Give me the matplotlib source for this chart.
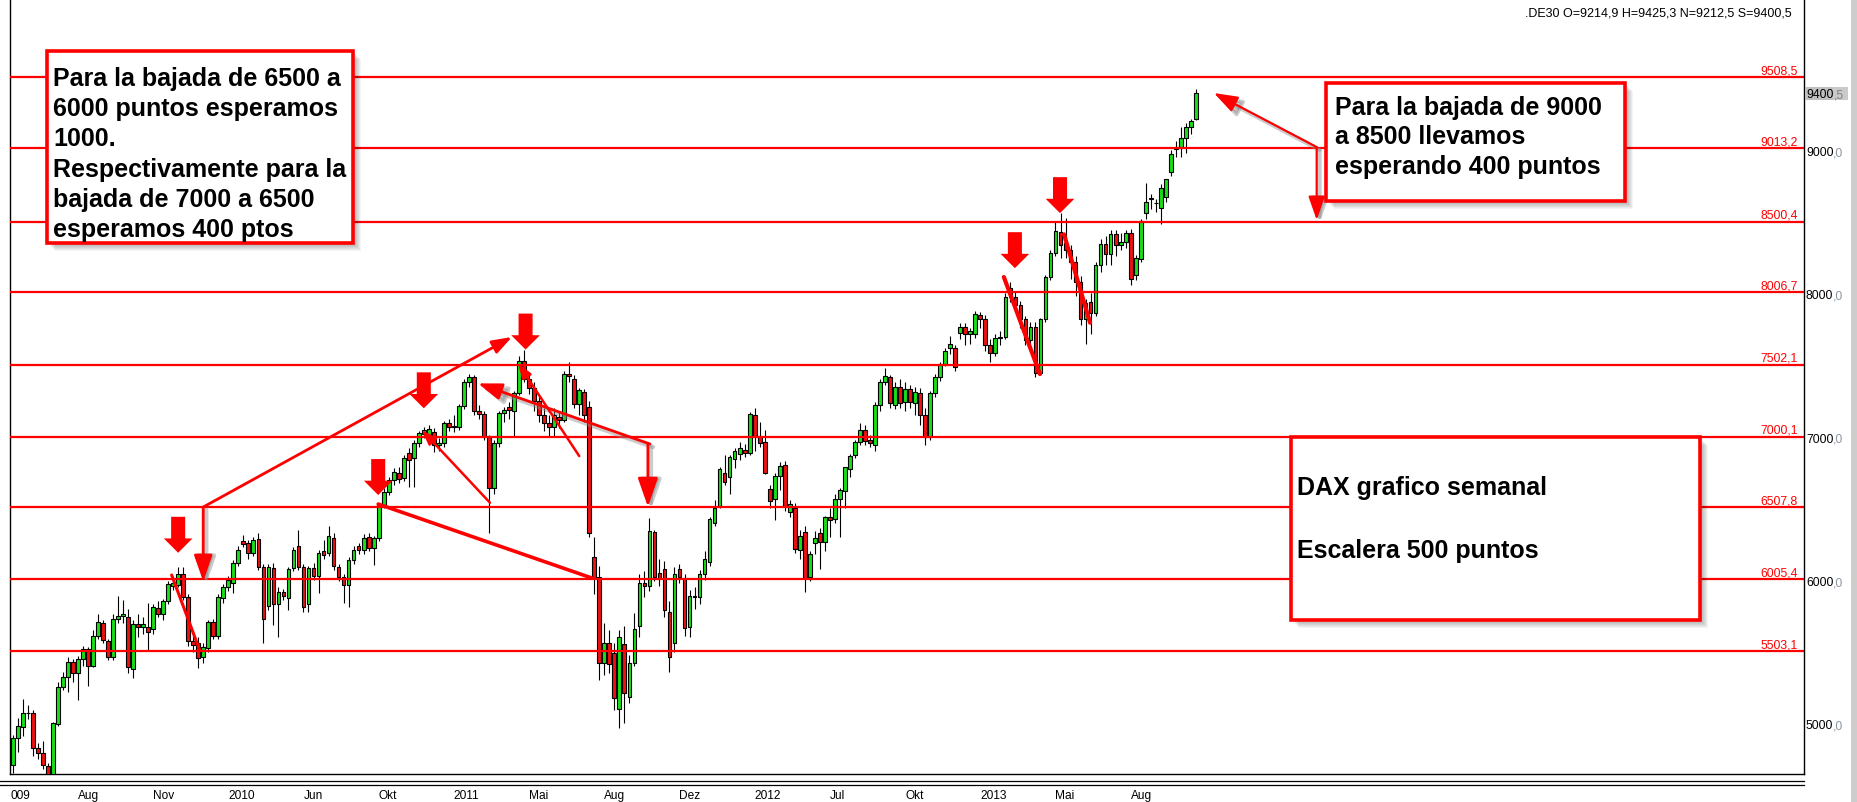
import matplotlib
matplotlib.use("Agg")
import matplotlib.pyplot as plt
import matplotlib.transforms as mtransforms
from matplotlib.patches import Rectangle, Polygon
from matplotlib.lines import Line2D
from matplotlib import font_manager
import numpy as np

W, H = 1857, 802

# DAX weekly candles (Mai 2009 - Nov 2013)
opens = [4709, 4895, 4972, 5069, 5075, 4825, 4790, 4700, 4640, 4995,
         5255, 5320, 5430, 5348, 5446, 5516, 5402, 5609, 5697, 5576,
         5460, 5725, 5751, 5739, 5376, 5693, 5669, 5669, 5655, 5803,
         5763, 5856, 5960, 5966, 6040, 5880, 5576, 5558, 5460, 5523,
         5704, 5609, 5872, 5948, 5976, 6121, 6272, 6261, 6191, 6284,
         6089, 5818, 6081, 5832, 5918, 5873, 6081, 6238, 6089, 5831,
         6082, 6028, 6203, 6191, 6296, 6093, 6019, 5966, 6140, 6238,
         6210, 6303, 6221, 6291, 6524, 6617, 6700, 6745, 6709, 6889,
         6849, 6958, 7020, 7012, 7035, 6944, 6954, 7093, 7075, 7070,
         7214, 7384, 7414, 7179, 7156, 7000, 6640, 6953, 7163, 7205,
         7179, 7307, 7530, 7400, 7340, 7250, 7151, 7093, 7065, 7140,
         7116, 7437, 7400, 7228, 7314, 7209, 6163, 6019, 5418, 5563,
         5493, 5098, 5551, 5181, 5423, 5679, 5981, 5958, 6337, 6050,
         6074, 5779, 5563, 6074, 6012, 5670, 5890, 5882, 6039, 6128,
         6400, 6516, 6749, 6716, 6842, 6880, 6907, 6884, 7151, 7005,
         6965, 6633, 6563, 6728, 6802, 6477, 6500, 6209, 6337, 6018,
         6256, 6325, 6263, 6437, 6423, 6563, 6623, 6772, 6872, 6965,
         7047, 6975, 6942, 7221, 7384, 7419, 7221, 7349, 7240, 7330,
         7233, 7307, 7151, 7000, 7307, 7419, 7507, 7617, 7617, 7726,
         7768, 7714, 7714, 7849, 7821, 7640, 7582, 7686, 7698, 8035,
         7977, 7919, 7819, 7675, 7768, 7442, 7819, 8112, 8284, 8431,
         8354, 8303, 8221, 8082, 7819, 7942, 7861, 8198, 8342, 8272,
         8412, 8338, 8361, 8419, 8128, 8238, 8559, 8660, 8632, 8593,
         8675, 8849, 9008, 9012, 9082, 9159, 9214.9]
highs = [4918, 5040, 5170, 5130, 5090, 4860, 4880, 4720, 5010, 5290,
         5360, 5460, 5450, 5470, 5540, 5530, 5650, 5762, 5720, 5590,
         5760, 5888, 5860, 5800, 5720, 5760, 5740, 5837, 5830, 5850,
         5870, 5990, 6010, 6089, 6089, 5900, 5620, 5600, 5560, 5720,
         5730, 5900, 5970, 6030, 6140, 6240, 6314, 6280, 6300, 6330,
         6110, 6110, 6120, 5950, 5940, 6090, 6230, 6350, 6110, 6100,
         6120, 6210, 6280, 6377, 6330, 6110, 6040, 6160, 6240, 6260,
         6320, 6330, 6310, 6540, 6640, 6720, 6780, 6790, 6870, 6920,
         6980, 7040, 7070, 7080, 7060, 6990, 7110, 7120, 7150, 7230,
         7400, 7437, 7430, 7220, 7180, 7010, 6980, 7180, 7210, 7240,
         7320, 7560, 7605, 7450, 7380, 7290, 7200, 7150, 7200, 7180,
         7460, 7520, 7430, 7340, 7330, 7250, 6300, 6100, 5700, 5650,
         5560, 5650, 5680, 5480, 5770, 6040, 6060, 6430, 6350, 6150,
         6130, 5850, 6090, 6110, 6040, 5930, 5950, 6070, 6200, 6440,
         6560, 6790, 6870, 6870, 6920, 6960, 6950, 7170, 7200, 7100,
         7050, 6660, 6750, 6820, 6830, 6560, 6540, 6350, 6380, 6200,
         6340, 6360, 6450, 6500, 6600, 6640, 6790, 6880, 6980, 7098,
         7080, 7010, 7240, 7400, 7477, 7430, 7380, 7400, 7380, 7360,
         7350, 7340, 7200, 7320, 7440, 7520, 7620, 7700, 7640, 7790,
         7790, 7760, 7880, 7870, 7850, 7680, 7720, 7740, 8000, 8080,
         8010, 7950, 7840, 7800, 7800, 7830, 8130, 8300, 8500, 8559,
         8524, 8340, 8260, 8120, 7960, 8000, 8220, 8380, 8400, 8440,
         8440, 8420, 8440, 8450, 8270, 8520, 8770, 8690, 8660, 8760,
         8800, 9000, 9060, 9160, 9190, 9220, 9425.3]
lows = [4655, 4800, 4910, 5030, 4770, 4750, 4680, 4600, 4600, 4980,
        5230, 5220, 5290, 5160, 5400, 5262, 5390, 5590, 5560, 5440,
        5440, 5700, 5700, 5350, 5313, 5600, 5620, 5511, 5620, 5740,
        5720, 5830, 5930, 5950, 5860, 5540, 5500, 5383, 5420, 5500,
        5590, 5590, 5840, 5920, 5907, 6100, 6230, 6150, 6170, 6070,
        5558, 5790, 5686, 5605, 5860, 5790, 6060, 6070, 5780, 5779,
        6000, 5907, 6150, 6170, 6070, 5990, 5837, 5814, 6110, 6180,
        6180, 6200, 6105, 6270, 6500, 6590, 6660, 6680, 6690, 6651,
        6651, 6930, 6990, 6990, 6890, 6900, 6930, 7040, 7030, 7050,
        7190, 7350, 7150, 7120, 6980, 6325, 6600, 6930, 7100, 7120,
        7000, 7290, 7380, 7300, 7180, 7100, 7040, 7000, 7000, 7060,
        7100, 7380, 7200, 7150, 7100, 6300, 5900, 5300, 5340, 5350,
        5090, 4965, 5000, 5140, 5400, 5600, 5880, 5920, 5990, 5960,
        5740, 5360, 5500, 5980, 5610, 5600, 5800, 5830, 6000, 6100,
        6380, 6500, 6660, 6600, 6780, 6840, 6860, 6870, 6900, 6930,
        6740, 6500, 6420, 6630, 6480, 6440, 6190, 6150, 5915, 5990,
        6180, 6080, 6200, 6300, 6400, 6300, 6500, 6720, 6850, 6940,
        6940, 6930, 6900, 7180, 7360, 7200, 7190, 7200, 7180, 7200,
        7150, 7080, 6942, 6980, 7280, 7390, 7490, 7580, 7460, 7680,
        7640, 7650, 7690, 7760, 7600, 7520, 7560, 7640, 7680, 7940,
        7880, 7760, 7640, 7600, 7420, 7430, 7800, 8090, 8260, 8250,
        8250, 8100, 7980, 7780, 7650, 7720, 7840, 8150, 8200, 8200,
        8260, 8300, 8320, 8060, 8090, 8220, 8520, 8590, 8570, 8484,
        8640, 8820, 8950, 8955, 8977, 9110, 9212.5]
closes = [4895, 4981, 5069, 5075, 4825, 4790, 4709, 4640, 4999, 5255,
          5320, 5430, 5353, 5446, 5516, 5402, 5609, 5704, 5581, 5460,
          5725, 5751, 5760, 5390, 5693, 5669, 5690, 5639, 5809, 5763,
          5856, 5969, 5977, 6040, 5884, 5576, 5546, 5453, 5530, 5704,
          5609, 5879, 5948, 6000, 6121, 6209, 6251, 6191, 6280, 6089,
          5726, 6088, 5832, 5918, 5888, 6074, 6209, 6089, 5810, 6082,
          6028, 6191, 6175, 6307, 6098, 6019, 5966, 6140, 6210, 6210,
          6296, 6221, 6291, 6524, 6617, 6700, 6756, 6703, 6849, 6837,
          6958, 7023, 7045, 7051, 6942, 6954, 7093, 7070, 7065, 7214,
          7384, 7414, 7179, 7158, 7000, 6640, 6953, 7163, 7186, 7186,
          7307, 7530, 7400, 7340, 7250, 7151, 7093, 7065, 7151, 7116,
          7435, 7423, 7228, 7325, 7151, 6326, 6012, 5418, 5563, 5411,
          5174, 5604, 5209, 5418, 5656, 5981, 5960, 6344, 6023, 6004,
          5790, 5460, 6039, 6023, 5663, 5890, 5880, 6039, 6144, 6423,
          6504, 6772, 6686, 6860, 6902, 6919, 6884, 7156, 7005, 6954,
          6749, 6553, 6728, 6795, 6516, 6528, 6214, 6307, 6012, 6181,
          6291, 6263, 6437, 6420, 6563, 6628, 6786, 6865, 6965, 7047,
          6972, 6955, 7221, 7384, 7424, 7233, 7349, 7233, 7330, 7240,
          7314, 7151, 7000, 7307, 7419, 7507, 7598, 7647, 7484, 7763,
          7714, 7740, 7854, 7821, 7640, 7582, 7686, 7698, 7977, 7977,
          7919, 7819, 7675, 7768, 7442, 7819, 8112, 8284, 8438, 8338,
          8303, 8221, 8082, 7819, 7930, 7861, 8198, 8342, 8272, 8412,
          8338, 8361, 8419, 8098, 8244, 8507, 8640, 8668, 8628, 8733,
          8796, 8973, 9015, 9082, 9159, 9205, 9400.5]

# escalera de 500 puntos
levels = [9508.5, 9013.2, 8500.4, 8006.7, 7502.1, 7000.1, 6507.8, 6005.4, 5503.1]
level_labels = ["9508,5", "9013,2", "8500,4", "8006,7", "7502,1",
                "7000,1", "6507,8", "6005,4", "5503,1"]
price_ticks = [5000, 6000, 7000, 8000, 9000]
last_price = 9400.5

date_pos = [-0.4, 13, 28, 43, 58, 73, 88, 103, 118, 133, 148, 163, 178, 193, 208, 223]
date_labels = ["009", "Aug", "Nov", "2010", "Jun", "Okt", "2011", "Mai", "Aug",
               "Dez", "2012", "Jul", "Okt", "2013", "Mai", "Aug"]

# flechas gordas (semana, precio de la punta)
block_x = [33.0, 72.9, 82.0, 102.3, 199.9, 208.9]
block_tip = [6190, 6593, 7198, 7608, 8176, 8560]

# lineas dibujadas: inicio, fin, punta (tamano o None), grosor, sombra
marks = [
    ((38.0, 6509), (99.6, 7696), 15, 2.0, False),
    ((38.0, 6509), (38.0, 5990), 20, 2.0, True),
    ((31.7, 6035), (37.3, 5510), None, 2.2, False),
    ((72.9, 6530), (115.5, 6014), None, 2.6, False),
    ((95.2, 6539), (81.6, 7047), 11, 1.8, False),
    ((127.1, 6949), (92.8, 7372), 18, 2.0, True),
    ((126.7, 6949), (126.7, 6511), 22, 2.0, True),
    ((113.0, 6865), (100.8, 7512), 11, 1.8, False),
    ((197.7, 8114), (204.9, 7437), None, 3.0, False),
    ((209.7, 8412), (214.9, 7795), None, 3.0, False),
    ((260.1, 9021), (239.6, 9398), 18, 1.6, True),
    ((260.1, 9021), (260.1, 8512), 18, 1.6, True),
]

RED = "#ff0000"
GREEN = "#18e018"
CRED = "#f01010"

plt.rcParams["font.family"] = ["Liberation Sans", "DejaVu Sans"]
names = {f.name for f in font_manager.fontManager.ttflist}
narrow = "Liberation Sans Narrow" if "Liberation Sans Narrow" in names else "Liberation Sans"
date_size = 10.4 if narrow.endswith("Narrow") else 8.6

fig = plt.figure(figsize=(W / 100, H / 100), dpi=100)
ax = fig.add_axes([10 / W, 1 - 774 / H, (1804 - 10) / W, 774 / H])
ax.set_xlim(-0.54, 357.3)
ax.set_ylim(4646.3, 10047.2)

o = np.array(opens)
c = np.array(closes)
x = np.arange(len(c))
up = c >= o
cols = np.where(up, GREEN, CRED)

ax.vlines(x, lows, highs, color="black", lw=0.8, zorder=2)
ax.bar(x, np.abs(c - o), bottom=np.minimum(o, c), width=0.74, color=cols,
       edgecolor="black", linewidth=0.8, zorder=3)

ax.hlines(levels, -0.54, 357.3, color=RED, lw=1.6, zorder=4)
ytr = ax.get_yaxis_transform()
for lv, lab in zip(levels, level_labels):
    ax.annotate(lab, xy=(1, lv), xycoords=ytr, xytext=(-6, 3), textcoords="offset pixels",
                ha="right", va="baseline", color=RED, fontsize=8.8)

# eje de precios a la derecha
for p in price_ticks:
    ax.annotate(str(p), xy=(1, p), xycoords=ytr, xytext=(2, -6), textcoords="offset pixels",
                ha="left", va="baseline", fontsize=8.7, annotation_clip=False)
    ax.annotate(",0", xy=(1, p), xycoords=ytr, xytext=(29, -6), textcoords="offset pixels",
                ha="left", va="baseline", fontsize=8.7, color="#8a96a3", annotation_clip=False)

# ultimo precio (caja gris + texto encima)
fig.add_artist(Rectangle((1805 / W, 1 - 100 / H), 28 / W, 13 / H, transform=fig.transFigure,
                         facecolor="#c0c0c0", edgecolor="none"))
fig.add_artist(Rectangle((1833 / W, 1 - 100 / H), 15 / W, 13 / H, transform=fig.transFigure,
                         facecolor="#cacaca", edgecolor="none"))
lp = f"{last_price:.1f}".split(".")
fig.text(1806 / W, 1 - 98 / H, lp[0], fontsize=8.7, va="baseline", zorder=5)
fig.text(1834 / W, 1 - 98 / H, "," + lp[1], fontsize=8.7, va="baseline", color="#808080", zorder=5)

# flechas gordas
for bx, bt in zip(block_x, block_tip):
    pts = [(bx - 1.4, bt + 251), (bx + 1.4, bt + 251), (bx + 1.4, bt + 100), (bx + 2.86, bt + 100),
           (bx, bt), (bx - 2.86, bt + 100), (bx - 1.4, bt + 100)]
    ax.add_patch(Polygon(pts, closed=True, facecolor=RED, edgecolor="none", zorder=7))

# lineas y flechas finas
shadow_tr = mtransforms.offset_copy(ax.transData, fig=fig, x=3, y=-3, units="dots")
for p0, p1, head, lw, shadow in marks:
    if head is None:
        style = "-"
        ms = 1
    else:
        style = "-|>,head_length=0.8,head_width=0.28"
        ms = head
    props = dict(arrowstyle=style, color=RED, lw=lw, shrinkA=0, shrinkB=0,
                 mutation_scale=ms, capstyle="round")
    if shadow:
        sp = dict(props, color="0.55", alpha=0.45, lw=lw + 1.2)
        ax.annotate("", xy=p1, xytext=p0, xycoords=shadow_tr, textcoords=shadow_tr,
                    arrowprops=sp, zorder=5)
    ax.annotate("", xy=p1, xytext=p0, arrowprops=props, zorder=6)

# ejes
ax.set_yticks([])
ax.set_xticks(date_pos)
ax.set_xticklabels(date_labels, fontfamily=narrow, fontsize=date_size, ha="left", va="baseline")
ax.tick_params(axis="x", length=0, pad=18)
ax.spines["top"].set_visible(False)
for s in ["left", "right", "bottom"]:
    ax.spines[s].set_linewidth(1.0)
    ax.spines[s].set_color("black")

# doble linea bajo el grafico
for yy in [781, 784.5]:
    fig.add_artist(Line2D([0, 1804 / W], [1 - yy / H] * 2, color="black", lw=0.9,
                          transform=fig.transFigure))
# barra gris a la derecha
fig.add_artist(Rectangle((1851 / W, 0), 6 / W, 1, transform=fig.transFigure,
                         facecolor="#cdcdcd", edgecolor="none"))

fig.text(1792 / W, 1 - 16 / H, ".DE30 O=9214,9 H=9425,3 N=9212,5 S=9400,5",
         ha="right", va="baseline", fontsize=9)


def caja(x0, y0, x1, y1):
    for k in range(2, 9):
        fig.add_artist(Rectangle(((x0 + k) / W, 1 - (y1 + k) / H), (x1 - x0) / W, (y1 - y0) / H,
                                 transform=fig.transFigure, facecolor="black",
                                 edgecolor="none", alpha=0.045))
    fig.add_artist(Rectangle((x0 / W, 1 - y1 / H), (x1 - x0) / W, (y1 - y0) / H,
                             transform=fig.transFigure, facecolor="white",
                             edgecolor=RED, lw=2.6))


caja(47, 51, 353, 243)
caja(1326, 83, 1625, 201)
caja(1291, 437, 1700, 620)

txt_a = ["Para la bajada de 6500 a", "6000 puntos esperamos", "1000.",
         "Respectivamente para la", "bajada de 7000 a 6500", "esperamos 400 ptos"]
for k, s in enumerate(txt_a):
    fig.text(53 / W, 1 - (86 + 30.2 * k) / H, s, fontsize=18, fontweight="bold", va="baseline")

txt_b = ["Para la bajada de 9000", "a 8500 llevamos", "esperando 400 puntos"]
for k, s in enumerate(txt_b):
    fig.text(1335 / W, 1 - (115 + 29.5 * k) / H, s, fontsize=18, fontweight="bold", va="baseline")

fig.text(1297 / W, 1 - 495 / H, "DAX grafico semanal", fontsize=18, fontweight="bold", va="baseline")
fig.text(1297 / W, 1 - 558 / H, "Escalera 500 puntos", fontsize=18, fontweight="bold", va="baseline")

fig.savefig("out.png", dpi=100)
